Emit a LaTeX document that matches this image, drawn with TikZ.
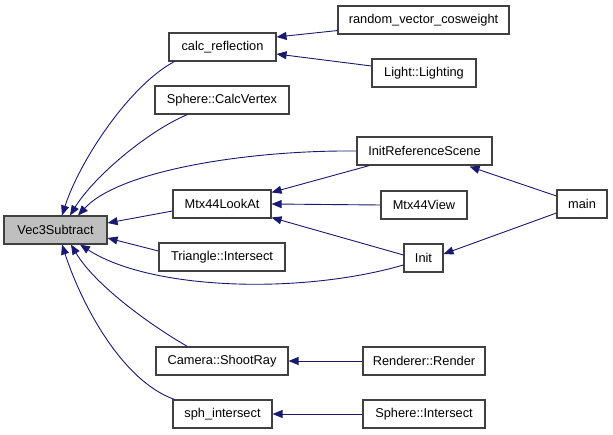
\documentclass[tikz,border=0pt]{standalone}
\usepackage{fontspec}
\setmainfont{Liberation Sans}
\usetikzlibrary{arrows.meta,calc}
\definecolor{edgeblue}{HTML}{191970}
\definecolor{boxline}{HTML}{404040}
\definecolor{rootfill}{HTML}{BFBFBF}
\begin{document}
\begin{tikzpicture}[x=1pt,y=-1pt,
  fn/.style={draw=boxline,line width=1.1pt,fill=white,inner sep=0pt,minimum height=28pt,
    font=\fontsize{12.8}{14}\selectfont,anchor=center},
  root/.style={fn,fill=rootfill},
  edge/.style={draw=edgeblue,line width=0.9pt,-{Triangle[length=10pt,width=8pt]},fill=none},
]
\useasboundingbox (0,0) rectangle (613,435);
% nodes
\node[root,minimum width=103pt] (vec) at (55.5,230) {Vec3Subtract};
\node[fn,minimum width=107pt] (calc) at (222.5,47) {calc\_reflection};
\node[fn,minimum width=134pt] (calcv) at (222,100) {Sphere::CalcVertex};
\node[fn,minimum width=171pt] (rvc) at (423.5,20) {random\_vector\_cosweight};
\node[fn,minimum width=104pt] (light) at (424,73) {Light::Lighting};
\node[fn,minimum width=135pt] (irs) at (424.5,151) {InitReferenceScene};
\node[fn,minimum width=98pt] (lookat) at (222,204) {Mtx44LookAt};
\node[fn,minimum width=86pt] (view) at (424,205) {Mtx44View};
\node[fn,minimum width=126pt] (tri) at (222,257) {Triangle::Intersect};
\node[fn,minimum width=39pt] (init) at (423.5,258) {Init};
\node[fn,minimum width=50pt] (main) at (582,204) {main};
\node[fn,minimum width=132pt] (shoot) at (222,361) {Camera::ShootRay};
\node[fn,minimum width=122pt] (render) at (424,361) {Renderer::Render};
\node[fn,minimum width=99pt] (sph) at (222.5,414) {sph\_intersect};
\node[fn,minimum width=122pt] (sphi) at (424,414) {Sphere::Intersect};
% edges into Vec3Subtract
\draw[edge] ($(calc.south west)+(6,0)$) .. controls (130,85) and (80,160) .. ($(vec.north)+(6.5,0)$);
\draw[edge] ($(calcv.south west)+(33,0)$) .. controls (150,130) and (95,175) .. ($(vec.north)+(14.5,0)$);
\draw[edge] (irs.west) .. controls (250,150) and (120,170) .. ($(vec.north)+(22.5,0)$);
\draw[edge] ($(lookat.west)+(0,7)$) -- ($(vec.east)+(0,-7)$);
\draw[edge] ($(tri.west)+(0,-6)$) -- ($(vec.east)+(0,8)$);
\draw[edge] ($(init.west)+(0,7)$) .. controls (300,295) and (150,290) .. ($(vec.south)+(24.5,0)$);
\draw[edge] ($(shoot.north west)+(32,0)$) .. controls (150,325) and (95,285) .. ($(vec.south)+(15.5,0)$);
\draw[edge] ($(sph.north west)+(2,0)$) .. controls (120,380) and (80,300) .. ($(vec.south)+(6.5,0)$);
% other edges
\draw[edge] ($(rvc.south west)+(0,-4)$) -- ($(calc.east)+(0,-10)$);
\draw[edge] ($(light.west)+(0,-7)$) -- ($(calc.east)+(0,7)$);
\draw[edge] ($(irs.south west)+(13,0)$) -- ($(lookat.north east)+(0,3)$);
\draw[edge] (view.west) -- (lookat.east);
\draw[edge] ($(init.west)+(0,-3)$) -- ($(lookat.south east)+(0,-1)$);
\draw[edge] ($(main.west)+(0,-8)$) -- ($(irs.south east)+(-23,1)$);
\draw[edge] ($(main.west)+(0,9)$) -- ($(init.east)+(0,-4)$);
\draw[edge] (render.west) -- (shoot.east);
\draw[edge] (sphi.west) -- (sph.east);
\end{tikzpicture}
\end{document}
